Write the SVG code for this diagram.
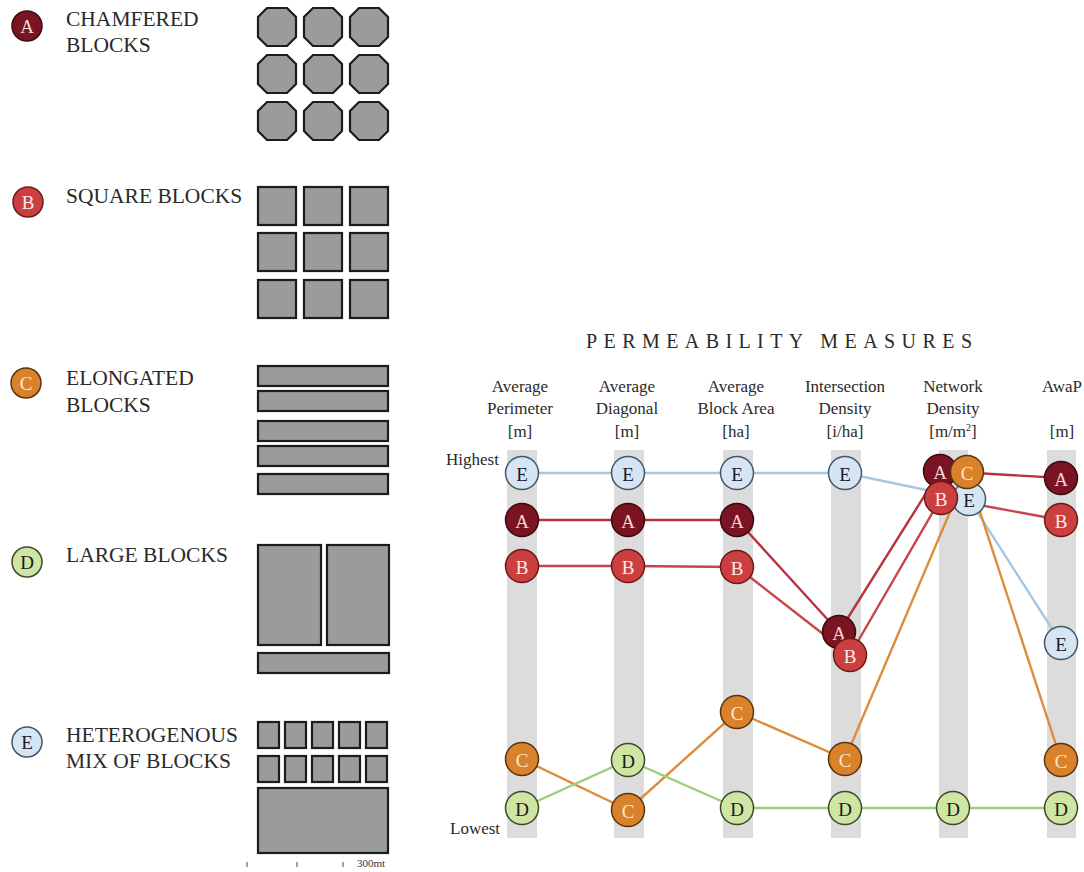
<svg xmlns="http://www.w3.org/2000/svg" width="1084" height="872" viewBox="0 0 1084 872">
  <style>
    .lbl { font-family: "Liberation Serif", "Times New Roman", serif; font-size: 21.5px; fill: #2a2a2a; }
    .hdr { font-family: "Liberation Serif", "Times New Roman", serif; font-size: 17px; fill: #2a2a2a; text-anchor: middle; }
    .axis { font-family: "Liberation Serif", "Times New Roman", serif; font-size: 17px; fill: #2a2a2a; }
    .title { font-family: "Liberation Serif", "Times New Roman", serif; font-size: 20px; fill: #2a2a2a; }
    .blk { fill: #9b9b9b; stroke: #1c1c1c; stroke-width: 2.2; }
    .band { fill: #dcdcdc; }
    .ct { font-family: "Liberation Serif", "Times New Roman", serif; font-size: 19px; text-anchor: middle; dominant-baseline: central; }
    .nA circle { fill: #7a1422; stroke: #3b0a10; stroke-width: 1.5; }
    .nA .ct { fill: #f2d6d6; }
    .nB circle { fill: #cc3f3f; stroke: #6a1a1a; stroke-width: 1.5; }
    .nB .ct { fill: #fbe9e9; }
    .nC circle { fill: #d9822b; stroke: #5a3410; stroke-width: 1.5; }
    .nC .ct { fill: #fbe6cc; }
    .nD circle { fill: #cfe5a3; stroke: #3d4a2a; stroke-width: 1.5; }
    .nD .ct { fill: #1a1a1a; }
    .nE circle { fill: #d5e5f4; stroke: #445566; stroke-width: 1.5; }
    .nE .ct { fill: #1a1a2a; }
    .ln { fill: none; stroke-width: 2.4; stroke-linejoin: round; }
  </style>
  <defs>
    <!-- chamfered block, 38 x 38 -->
    <polygon id="cham" points="9,0 29,0 38,9 38,29 29,38 9,38 0,29 0,9"/>
  </defs>

  <rect width="1084" height="872" fill="#ffffff"/>

  <!-- legend: block types -->
  <g id="legend-A">
    <g class="nA"><circle cx="27" cy="26" r="15"/><text class="ct" x="27" y="26">A</text></g>
    <text class="lbl" x="66" y="26">CHAMFERED</text>
    <text class="lbl" x="66" y="52">BLOCKS</text>
    <g class="blk">
      <use href="#cham" x="258" y="8"/><use href="#cham" x="304" y="8"/><use href="#cham" x="350" y="8"/>
      <use href="#cham" x="258" y="55"/><use href="#cham" x="304" y="55"/><use href="#cham" x="350" y="55"/>
      <use href="#cham" x="258" y="102"/><use href="#cham" x="304" y="102"/><use href="#cham" x="350" y="102"/>
    </g>
  </g>

  <g id="legend-B">
    <g class="nB"><circle cx="28" cy="202" r="15"/><text class="ct" x="28" y="202">B</text></g>
    <text class="lbl" x="66" y="203">SQUARE BLOCKS</text>
    <g class="blk">
      <rect x="258" y="187" width="38" height="38"/><rect x="304" y="187" width="38" height="38"/><rect x="350" y="187" width="38" height="38"/>
      <rect x="258" y="233" width="38" height="38"/><rect x="304" y="233" width="38" height="38"/><rect x="350" y="233" width="38" height="38"/>
      <rect x="258" y="280" width="38" height="38"/><rect x="304" y="280" width="38" height="38"/><rect x="350" y="280" width="38" height="38"/>
    </g>
  </g>

  <g id="legend-C">
    <g class="nC"><circle cx="26" cy="383" r="15"/><text class="ct" x="26" y="383">C</text></g>
    <text class="lbl" x="66" y="385">ELONGATED</text>
    <text class="lbl" x="66" y="412">BLOCKS</text>
    <g class="blk">
      <rect x="258" y="366" width="130" height="20"/>
      <rect x="258" y="391" width="130" height="20"/>
      <rect x="258" y="421" width="130" height="20"/>
      <rect x="258" y="446" width="130" height="20"/>
      <rect x="258" y="474" width="130" height="20"/>
    </g>
  </g>

  <g id="legend-D">
    <g class="nD"><circle cx="27" cy="562" r="15"/><text class="ct" x="27" y="562">D</text></g>
    <text class="lbl" x="66" y="562">LARGE BLOCKS</text>
    <g class="blk">
      <rect x="258" y="545" width="63" height="100"/>
      <rect x="327" y="545" width="62" height="100"/>
      <rect x="258" y="653" width="131" height="20"/>
    </g>
  </g>

  <g id="legend-E">
    <g class="nE"><circle cx="27" cy="742" r="15"/><text class="ct" x="27" y="742">E</text></g>
    <text class="lbl" x="66" y="742">HETEROGENOUS</text>
    <text class="lbl" x="66" y="768">MIX OF BLOCKS</text>
    <g class="blk">
      <rect x="258" y="722" width="21" height="26"/><rect x="285" y="722" width="21" height="26"/><rect x="312" y="722" width="21" height="26"/><rect x="339" y="722" width="21" height="26"/><rect x="366" y="722" width="21" height="26"/>
      <rect x="258" y="756" width="21" height="26"/><rect x="285" y="756" width="21" height="26"/><rect x="312" y="756" width="21" height="26"/><rect x="339" y="756" width="21" height="26"/><rect x="366" y="756" width="21" height="26"/>
      <rect x="258" y="788" width="130" height="65"/>
    </g>
  </g>

  <!-- scale bar -->
  <g id="scale" stroke="#444" stroke-width="1">
    <line x1="247" y1="862" x2="247" y2="867"/>
    <line x1="297" y1="862" x2="297" y2="867"/>
    <line x1="343" y1="862" x2="343" y2="867"/>
    <text x="357" y="867" stroke="none" fill="#333" font-family="Liberation Serif, serif" font-size="11">300mt</text>
  </g>

  <!-- chart title and column headers -->
  <g id="chart-header">
    <text class="title" x="586" y="348" textLength="386" lengthAdjust="spacing">PERMEABILITY MEASURES</text>
    <text class="hdr" x="520" y="392">Average</text>
    <text class="hdr" x="520" y="414">Perimeter</text>
    <text class="hdr" x="520" y="437">[m]</text>
    <text class="hdr" x="627" y="392">Average</text>
    <text class="hdr" x="627" y="414">Diagonal</text>
    <text class="hdr" x="627" y="437">[m]</text>
    <text class="hdr" x="736" y="392">Average</text>
    <text class="hdr" x="736" y="414">Block Area</text>
    <text class="hdr" x="736" y="437">[ha]</text>
    <text class="hdr" x="845" y="392">Intersection</text>
    <text class="hdr" x="845" y="414">Density</text>
    <text class="hdr" x="845" y="437">[i/ha]</text>
    <text class="hdr" x="953" y="392">Network</text>
    <text class="hdr" x="953" y="414">Density</text>
    <text class="hdr" x="953" y="437">[m/m<tspan font-size="10" dy="-6">2</tspan><tspan dy="6">]</tspan></text>
    <text class="hdr" x="1062" y="392">AwaP</text>
    <text class="hdr" x="1062" y="437">[m]</text>
    <text class="axis" x="446" y="465">Highest</text>
    <text class="axis" x="450" y="834">Lowest</text>
  </g>

  <!-- column bands -->
  <g id="bands" class="band">
    <rect x="507" y="450" width="30" height="388"/>
    <rect x="614" y="450" width="30" height="388"/>
    <rect x="723" y="450" width="30" height="388"/>
    <rect x="831" y="450" width="30" height="388"/>
    <rect x="939" y="450" width="29" height="388"/>
    <rect x="1047" y="450" width="29" height="388"/>
  </g>

  <!-- ranking connectors -->
  <g id="connectors">
    <polyline class="ln" stroke="#a9c6e0" points="522,473 628,473 737,473 845,473 969,499 1061,643"/>
    <polyline class="ln" stroke="#b8333f" points="522,520 628,520 737,520 839,632 940,471 1061,478"/>
    <polyline class="ln" stroke="#c9444a" points="522,566 628,566 737,567 850,655 941,498 1061,520"/>
    <polyline class="ln" stroke="#dd8c3a" points="522,759 628,810 737,712 845,759 967,472 1061,760"/>
    <polyline class="ln" stroke="#9ccf78" points="522,808 628,760 737,808 845,808 953,808 1061,808"/>
  </g>

  <!-- ranking nodes -->
  <g id="series-E" class="nE">
    <circle cx="522" cy="473" r="16.5"/><text class="ct" x="522" y="474">E</text>
    <circle cx="628" cy="473" r="16.5"/><text class="ct" x="628" y="474">E</text>
    <circle cx="737" cy="473" r="16.5"/><text class="ct" x="737" y="474">E</text>
    <circle cx="845" cy="473" r="16.5"/><text class="ct" x="845" y="474">E</text>
    <circle cx="1061" cy="643" r="16.5"/><text class="ct" x="1061" y="644">E</text>
  </g>
  <g id="series-D" class="nD">
    <circle cx="522" cy="808" r="16.5"/><text class="ct" x="522" y="809">D</text>
    <circle cx="628" cy="760" r="16.5"/><text class="ct" x="628" y="761">D</text>
    <circle cx="737" cy="808" r="16.5"/><text class="ct" x="737" y="809">D</text>
    <circle cx="845" cy="808" r="16.5"/><text class="ct" x="845" y="809">D</text>
    <circle cx="953" cy="808" r="16.5"/><text class="ct" x="953" y="809">D</text>
    <circle cx="1061" cy="808" r="16.5"/><text class="ct" x="1061" y="809">D</text>
  </g>
  <g id="series-C" class="nC">
    <circle cx="522" cy="759" r="16.5"/><text class="ct" x="522" y="760">C</text>
    <circle cx="628" cy="810" r="16.5"/><text class="ct" x="628" y="811">C</text>
    <circle cx="737" cy="712" r="16.5"/><text class="ct" x="737" y="713">C</text>
    <circle cx="845" cy="759" r="16.5"/><text class="ct" x="845" y="760">C</text>
    <circle cx="1061" cy="760" r="16.5"/><text class="ct" x="1061" y="761">C</text>
  </g>
  <g id="series-A" class="nA">
    <circle cx="522" cy="520" r="16.5"/><text class="ct" x="522" y="521">A</text>
    <circle cx="628" cy="520" r="16.5"/><text class="ct" x="628" y="521">A</text>
    <circle cx="737" cy="520" r="16.5"/><text class="ct" x="737" y="521">A</text>
    <circle cx="839" cy="632" r="16.5"/><text class="ct" x="839" y="633">A</text>
    <circle cx="1061" cy="478" r="16.5"/><text class="ct" x="1061" y="479">A</text>
  </g>
  <g id="series-B" class="nB">
    <circle cx="522" cy="566" r="16.5"/><text class="ct" x="522" y="567">B</text>
    <circle cx="628" cy="566" r="16.5"/><text class="ct" x="628" y="567">B</text>
    <circle cx="737" cy="567" r="16.5"/><text class="ct" x="737" y="568">B</text>
    <circle cx="850" cy="655" r="16.5"/><text class="ct" x="850" y="656">B</text>
    <circle cx="1061" cy="520" r="16.5"/><text class="ct" x="1061" y="521">B</text>
  </g>

  <!-- overlapping cluster in the network density column -->
  <g id="network-cluster">
    <g class="nA"><circle cx="940" cy="471" r="16.5"/><text class="ct" x="940" y="472">A</text></g>
    <g class="nE"><circle cx="969" cy="499" r="16.5"/><text class="ct" x="969" y="500">E</text></g>
    <g class="nB"><circle cx="941" cy="498" r="16.5"/><text class="ct" x="941" y="499">B</text></g>
    <g class="nC"><circle cx="967" cy="472" r="16.5"/><text class="ct" x="967" y="473">C</text></g>
  </g>
</svg>
